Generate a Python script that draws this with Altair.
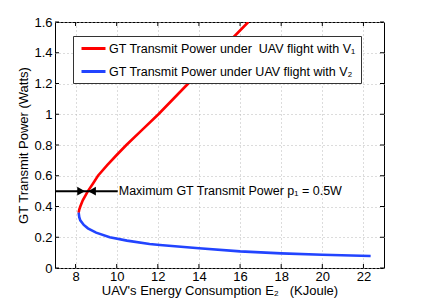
import altair as alt
import pandas as pd

# ---- data ----
red_E = [8.15, 8.18, 8.23, 8.35, 8.6, 8.85, 9.09, 9.55, 10.0, 10.47, 11.25, 12.03, 13.48, 14.94, 16.4]
red_P = [0.36, 0.38, 0.40, 0.44, 0.50, 0.55, 0.60, 0.67, 0.735, 0.80, 0.90, 1.00, 1.20, 1.40, 1.60]
blue_E = [8.15, 8.18, 8.23, 8.4, 8.6, 9.0, 9.66, 10.5, 11.6, 12.1, 14.0, 16.0, 18.0, 20.0, 22.35]
blue_P = [0.36, 0.33, 0.31, 0.28, 0.258, 0.23, 0.20, 0.178, 0.156, 0.15, 0.128, 0.108, 0.095, 0.086, 0.078]
series_names = ["GT Transmit Power under\u00a0 UAV flight with V\u2081",
                "GT Transmit Power under UAV flight with V\u2082"]
series_colors = ["#ff0000", "#2244ff"]
x_ticks = [8, 10, 12, 14, 16, 18, 20, 22]
y_ticks = [0, 0.2, 0.4, 0.6, 0.8, 1.0, 1.2, 1.4, 1.6]
arrow_E = [7.0, 10.05]
arrow_P = [0.5]
head_E = [8.27, 8.8]
head_shape = ["triangle-right", "triangle-left"]
annot_text = ["Maximum GT Transmit Power p\u2081 = 0.5W"]
annot_E = [10.1]
annot_P = [0.503]

W, H = 329, 246
FONT = "Liberation Sans"

rows = []
for i, (e, p) in enumerate(zip(red_E, red_P)):
    rows.append({"E": e, "P": p, "s": series_names[0], "o": i})
for i, (e, p) in enumerate(zip(blue_E, blue_P)):
    rows.append({"E": e, "P": p, "s": series_names[1], "o": i})
curves = pd.DataFrame(rows)

xs = alt.Scale(domain=[7, 23], nice=False, zero=False)
ys = alt.Scale(domain=[0, 1.6], nice=False)
x_axis = alt.Axis(values=x_ticks,
                  title="UAV's Energy Consumption E\u2082\u00a0 \u00a0(KJoule)",
                  grid=True, ticks=False, domain=False, labelPadding=2,
                  titlePadding=1, labelOverlap=False)
y_axis = alt.Axis(values=y_ticks, format=".1~f", title="GT Transmit Power (Watts)",
                  grid=True, ticks=False, domain=False, labelPadding=3,
                  titlePadding=3, labelOverlap=False)


def X(field="E:Q"):
    return alt.X(field, scale=xs, axis=x_axis)


def Y(field="P:Q"):
    return alt.Y(field, scale=ys, axis=y_axis)


curve_layer = alt.Chart(curves).mark_line(strokeWidth=2.6, clip=True).encode(
    x=X(), y=Y(),
    color=alt.Color("s:N", scale=alt.Scale(domain=series_names, range=series_colors),
                    legend=alt.Legend(title=None, orient="none", legendX=18, legendY=14,
                                      symbolType="M-2,0L2,0", symbolStrokeWidth=3,
                                      symbolSize=144, symbolOffset=8,
                                      labelFontSize=12.5, labelFont=FONT,
                                      labelColor="black", labelLimit=400,
                                      fillColor="white", strokeColor="#333333",
                                      padding=5, rowPadding=9, labelOffset=8,
                                      cornerRadius=0)),
    order="o:Q",
)

xt = pd.DataFrame({"E": x_ticks})
yt = pd.DataFrame({"P": y_ticks})
tick_b = alt.Chart(xt).mark_rule(color="black").encode(
    x=X(), y=alt.value(H), y2=alt.value(H - 4))
tick_t = alt.Chart(xt).mark_rule(color="black").encode(
    x=X(), y=alt.value(0), y2=alt.value(4))
tick_l = alt.Chart(yt).mark_rule(color="black").encode(
    y=Y(), x=alt.value(0), x2=alt.value(4))
tick_r = alt.Chart(yt).mark_rule(color="black").encode(
    y=Y(), x=alt.value(W), x2=alt.value(W - 4))

arrow_df = pd.DataFrame({"E": [arrow_E[0]], "E2": [arrow_E[1]], "P": arrow_P})
arrow = alt.Chart(arrow_df).mark_rule(color="black", strokeWidth=2).encode(
    x=X(), x2="E2:Q", y=Y())

heads_df = pd.DataFrame({"E": head_E, "P": arrow_P * 2, "shape": head_shape})
heads = alt.Chart(heads_df).mark_point(filled=True, color="black", opacity=1, size=80).encode(
    x=X(), y=Y(), shape=alt.Shape("shape:N", scale=None))

annot_df = pd.DataFrame({"E": annot_E, "P": annot_P, "t": annot_text})
annot = alt.Chart(annot_df).mark_text(align="left", baseline="middle", fontSize=12.5,
                                      font=FONT, color="black").encode(
    x=X(), y=Y(), text="t:N")

chart = alt.layer(curve_layer, arrow, heads, annot, tick_b, tick_t, tick_l, tick_r).properties(
    width=W, height=H,
    autosize=alt.AutoSizeParams(type="none"),
    padding={"left": 47, "top": 14, "right": 32, "bottom": 31},
).configure_view(stroke="black", strokeWidth=1).configure_axis(
    labelFont=FONT, titleFont=FONT, labelFontSize=13, titleFontSize=13,
    labelColor="black", titleColor="black", titleFontWeight="normal",
    gridColor="#b8b8b8", gridDash=[1, 3], gridWidth=1,
)

chart.save("out.html", embed_options={"renderer": "svg", "actions": False})
